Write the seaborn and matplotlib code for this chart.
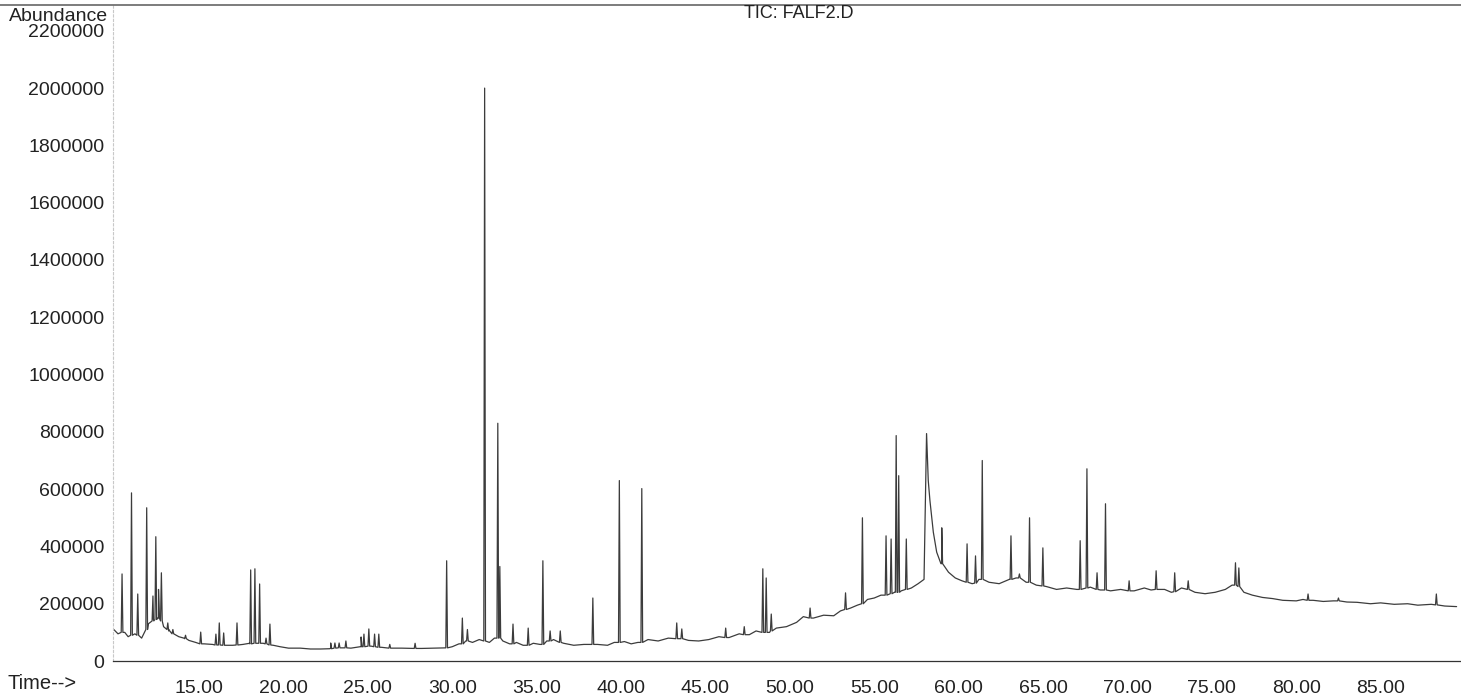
import numpy as np
import pandas as pd
import matplotlib
matplotlib.use("Agg")
import matplotlib.pyplot as plt
import seaborn as sns
from matplotlib.lines import Line2D
from matplotlib.ticker import FixedLocator, MultipleLocator, FuncFormatter

# ─── Trace (time in min, abundance) ──────────────────────────────────────────
# baseline / hump points between the sharp peaks
trace_t = [
    9.95, 10.2, 10.6, 10.8, 11.2, 11.6, 12.0, 12.3, 12.6, 12.9, 13.2, 13.5,
    13.8, 14.1, 14.4, 14.8, 15.3, 15.8, 16.4, 17.0, 17.6, 18.0, 18.8, 19.4,
    19.8, 20.3, 21.0, 21.6, 22.2, 22.8, 23.4, 24.0, 24.6, 25.2, 25.8, 26.4,
    27.0, 27.6, 28.2, 28.8, 29.4, 30.0, 30.4, 30.8, 31.2, 31.6, 32.2, 32.5,
    33.0, 33.4, 33.8, 34.2, 34.8, 35.2, 35.6, 36.0, 36.6, 37.2, 37.8, 38.6,
    39.2, 39.6, 40.2, 40.6, 41.0, 41.6, 42.2, 42.8, 43.4, 44.0, 44.6, 45.2,
    45.8, 46.4, 47.0, 47.6, 48.0, 48.8, 49.2, 49.8, 50.4, 50.8, 51.4, 52.0,
    52.6, 53.0, 53.6, 54.0, 54.6, 55.0, 55.4, 56.2, 56.6, 57.2, 57.6, 57.95,
    58.1, 58.2, 58.3, 58.5, 58.7, 59.0, 59.4, 59.8, 60.2, 60.8, 61.2, 61.8,
    62.4, 63.0, 63.4, 64.0, 64.6, 65.2, 65.8, 66.4, 67.0, 67.8, 68.4, 69.0,
    69.6, 70.4, 71.0, 71.4, 72.2, 72.6, 73.2, 74.0, 74.6, 75.2, 75.8, 76.2,
    76.9, 77.4, 78.0, 78.6, 79.2, 80.0, 80.4, 81.0, 81.6, 82.2, 83.0, 83.6,
    84.4, 85.0, 85.8, 86.6, 87.2, 88.0, 88.8, 89.5,
]
trace_v = [
    110000, 95000, 100000, 85000, 95000, 80000, 130000, 145000, 150000, 120000, 105000, 95000,
    85000, 80000, 72000, 65000, 60000, 58000, 55000, 55000, 58000, 62000, 62000, 55000,
    50000, 45000, 45000, 42000, 42000, 45000, 46000, 45000, 50000, 52000, 48000, 45000,
    45000, 44000, 44000, 45000, 46000, 50000, 60000, 70000, 65000, 75000, 65000, 80000,
    70000, 60000, 65000, 55000, 62000, 58000, 70000, 75000, 62000, 55000, 58000, 58000,
    55000, 65000, 68000, 60000, 65000, 75000, 70000, 80000, 78000, 72000, 70000, 75000,
    85000, 82000, 95000, 92000, 105000, 100000, 115000, 120000, 135000, 155000, 150000, 160000,
    158000, 175000, 185000, 195000, 215000, 220000, 230000, 240000, 245000, 255000, 270000, 285000,
    794000, 630000, 560000, 450000, 380000, 340000, 310000, 290000, 280000, 270000, 285000, 275000,
    270000, 285000, 290000, 275000, 265000, 260000, 250000, 255000, 250000, 258000, 248000, 245000,
    250000, 245000, 255000, 248000, 250000, 240000, 255000, 240000, 235000, 240000, 250000, 265000,
    240000, 230000, 222000, 218000, 212000, 210000, 215000, 212000, 208000, 210000, 206000, 205000,
    200000, 203000, 198000, 200000, 195000, 198000, 192000, 190000,
]

# sharp peaks: retention time, level at foot, apex
peak_t = [
    10.44, 11.00, 11.37, 11.90, 12.27, 12.44, 12.60, 12.77, 13.15, 13.45, 14.2,
    15.1, 16.0, 16.2, 16.46, 17.25, 18.06, 18.31, 18.59, 18.97, 19.2,
    22.8, 23.05, 23.3, 23.7, 24.6, 24.77, 25.06, 25.4, 25.65, 26.3, 27.8,
    29.67, 30.6, 30.9, 31.92, 32.7, 32.82, 33.6, 34.5, 35.37, 35.8, 36.4,
    38.33, 39.9, 41.23, 43.3, 43.6, 46.2, 47.3, 48.4, 48.6, 48.9, 51.2,
    53.3, 54.3, 55.7, 56.0, 56.3, 56.45, 56.9, 59.0, 60.5, 61.0, 61.4,
    63.1, 63.6, 64.2, 64.99, 67.2, 67.6, 68.2, 68.7, 70.1, 71.7, 72.8,
    73.6, 76.4, 76.6, 80.7, 82.5, 88.3,
]
peak_base = [
    100000, 90000, 90000, 110000, 140000, 145000, 150000, 140000, 110000, 95000, 78000,
    60000, 56000, 56000, 55000, 56000, 60000, 62000, 62000, 60000, 56000,
    43000, 45000, 46000, 46000, 50000, 50000, 52000, 50000, 48000, 45000, 44000,
    46000, 60000, 70000, 70000, 80000, 80000, 60000, 55000, 58000, 70000, 65000,
    58000, 65000, 65000, 78000, 78000, 82000, 92000, 100000, 100000, 105000, 150000,
    180000, 200000, 230000, 235000, 240000, 240000, 250000, 340000, 275000, 272000, 285000,
    285000, 290000, 275000, 262000, 250000, 255000, 250000, 248000, 245000, 250000, 242000,
    250000, 265000, 260000, 212000, 210000, 196000,
]
peak_top = [
    304000, 587000, 234000, 535000, 227000, 434000, 250000, 308000, 133000, 110000, 90000,
    101000, 94000, 133000, 98000, 133000, 318000, 322000, 269000, 80000, 129000,
    63000, 63000, 63000, 70000, 84000, 94000, 112000, 94000, 94000, 58000, 62000,
    350000, 150000, 110000, 2000000, 830000, 330000, 129000, 115000, 350000, 105000, 105000,
    220000, 630000, 602000, 133000, 112000, 115000, 120000, 322000, 290000, 164000, 185000,
    238000, 500000, 437000, 426000, 787000, 647000, 426000, 465000, 409000, 367000, 700000,
    437000, 304000, 500000, 395000, 420000, 671000, 308000, 549000, 280000, 315000, 308000,
    280000, 343000, 325000, 234000, 220000, 234000,
]

x_major = [15, 20, 25, 30, 35, 40, 45, 50, 55, 60, 65, 70, 75, 80, 85]
y_major = [0, 200000, 400000, 600000, 800000, 1000000, 1200000,
           1400000, 1600000, 1800000, 2000000, 2200000]

TITLE = "TIC: FALF2.D"
HALF_WIDTH = 0.05   # half width of a spike, minutes


def build_trace():
    rows = [(t, v) for t, v in zip(trace_t, trace_v)]
    for t, b, h in zip(peak_t, peak_base, peak_top):
        rows += [(t - HALF_WIDTH, b), (t, h), (t + HALF_WIDTH, b)]
    df = pd.DataFrame(rows, columns=["time", "abundance"])
    return df.sort_values("time", kind="stable").reset_index(drop=True)


def main():
    sns.set_theme(style="white")
    plt.rcParams["font.family"] = ["Liberation Sans", "DejaVu Sans"]

    df = build_trace()

    fig = plt.figure(figsize=(14.61, 6.97), dpi=100)
    ax = fig.add_axes([0.0773, 0.0516, 0.9220, 0.9412])

    sns.lineplot(data=df, x="time", y="abundance", sort=False, estimator=None,
                 color="#3c3c3c", linewidth=0.9, ax=ax)

    ax.set_xlim(9.9, 89.7)
    ax.set_ylim(0, 2290000)

    ax.xaxis.set_major_locator(FixedLocator(x_major))
    ax.xaxis.set_minor_locator(MultipleLocator(1))
    ax.xaxis.set_major_formatter(FuncFormatter(lambda v, p: f"{v:.2f}"))
    ax.yaxis.set_major_locator(FixedLocator(y_major))
    ax.yaxis.set_minor_locator(MultipleLocator(50000))
    ax.yaxis.set_major_formatter(FuncFormatter(lambda v, p: f"{int(v)}"))

    ax.tick_params(axis="x", which="major", direction="out", length=8, width=0.8,
                   color="#555555", labelsize=14, pad=6, labelcolor="#222222")
    ax.tick_params(axis="x", which="minor", direction="out", length=4, width=0.7,
                   color="#666666")
    ax.tick_params(axis="y", which="major", direction="out", length=3, width=0.7,
                   color="#999999", labelsize=14, pad=3, labelcolor="#222222")
    ax.tick_params(axis="y", which="minor", direction="out", length=1.5, width=0.5,
                   color="#bbbbbb")

    ax.set_xlabel("")
    ax.set_ylabel("")
    ax.grid(False)
    ax.spines["right"].set_visible(False)
    ax.spines["top"].set_visible(False)
    ax.spines["left"].set_color("#c8c8c8")
    ax.spines["left"].set_linestyle((0, (2, 2)))
    ax.spines["left"].set_linewidth(0.8)
    ax.spines["bottom"].set_color("#333333")
    ax.spines["bottom"].set_linewidth(0.9)

    # rule across the full page width at the top of the scan
    fig.add_artist(Line2D([0, 1], [0.993, 0.993], transform=fig.transFigure,
                          color="#666666", linewidth=1.2))

    fig.text(0.547, 0.981, TITLE, ha="center", va="center", fontsize=13,
             color="#222222")
    fig.text(0.006, 0.977, "Abundance", ha="left", va="center", fontsize=14,
             color="#222222")
    fig.text(0.005, 0.019, "Time-->", ha="left", va="center", fontsize=14.5,
             color="#222222")

    fig.savefig("out.png", dpi=100, facecolor="white")


if __name__ == "__main__":
    main()
